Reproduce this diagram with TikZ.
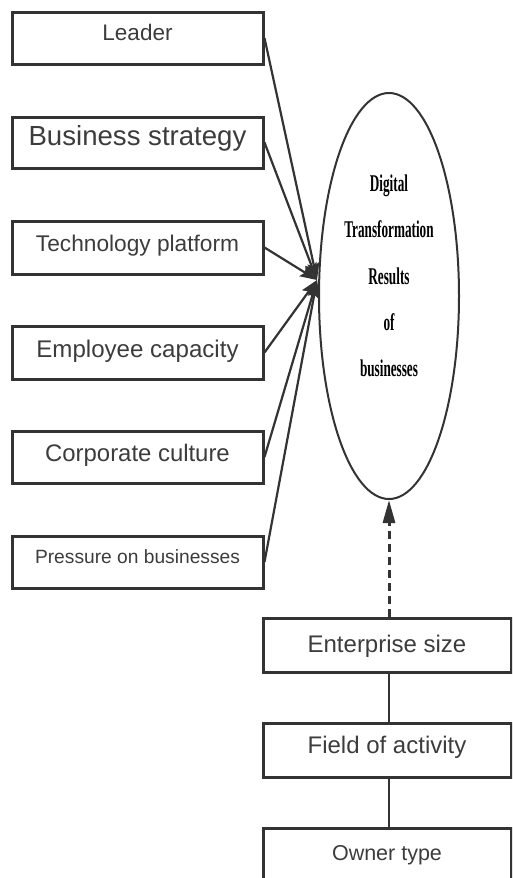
\documentclass[tikz,border=0pt]{standalone}
\usepackage{fontspec}
\setmainfont{Liberation Sans}
\newfontfamily\elfont[FakeStretch=0.55]{Liberation Serif}
\usetikzlibrary{arrows.meta,shapes.geometric}
\definecolor{lineC}{HTML}{333333}
\definecolor{textC}{HTML}{3C3C3C}
\tikzset{
  lbox/.style={draw=lineC, line width=3pt, minimum width=251pt, minimum height=52pt,
    inner sep=0pt, text height=0pt, text depth=0pt, text=textC},
  bbox/.style={draw=lineC, line width=3pt, minimum width=248pt, minimum height=54pt,
    inner sep=0pt, text height=0pt, text depth=0pt, text=textC},
  arr/.style={draw=lineC, line width=2.2pt, -{Stealth[length=17pt,width=12pt,inset=3pt]}},
  link/.style={draw=lineC, line width=2.5pt},
  dasharr/.style={draw=lineC, line width=3pt, dash pattern=on 8pt off 5pt,
    -{Triangle[length=23pt,width=12pt]}},
}
\begin{document}
\begin{tikzpicture}[x=1pt,y=-1pt]
\useasboundingbox (0,0) rectangle (512,878);
\clip (0,0) rectangle (512,878);
% left boxes
\node[lbox, font=\fontsize{22.5}{27}\selectfont] (lead) at (137.5,38) {\raisebox{-2.1pt}{Leader}};
\node[lbox, minimum height=51pt, font=\fontsize{27.6}{32}\selectfont] (bus) at (137.5,142.5) {\raisebox{-2.9pt}{Business strategy}};
\node[lbox, minimum height=53pt, font=\fontsize{22.7}{27}\selectfont] (tech) at (137.5,247.5) {\raisebox{-4.2pt}{Technology platform}};
\node[lbox, minimum height=53pt, font=\fontsize{24.1}{29}\selectfont] (emp) at (137.5,352.5) {\raisebox{-4.7pt}{Employee capacity}};
\node[lbox, font=\fontsize{23.9}{29}\selectfont] (corp) at (137.5,457) {\raisebox{-4.1pt}{Corporate culture}};
\node[lbox, font=\fontsize{19.2}{23}\selectfont] (pres) at (137.5,562) {\raisebox{-1.4pt}{Pressure on businesses}};
% ellipse
\node[ellipse, draw=lineC, line width=2pt, minimum width=140pt, minimum height=406pt, inner sep=0pt] (ell) at (389,296) {};
\node[align=center, inner sep=0pt, font=\elfont\bfseries\fontsize{24}{46.25}\selectfont] (elltext) at (389,276)
  {Digital\\Transformation\\Results\\of\\businesses};
\coordinate (hub) at (317,280);
% bottom boxes
\node[bbox, font=\fontsize{24}{29}\selectfont] (ent) at (387,645) {\raisebox{-7.1pt}{Enterprise size}};
\node[bbox, font=\fontsize{24}{29}\selectfont] (field) at (387,750) {\raisebox{-3.6pt}{Field of activity}};
\node[bbox, font=\fontsize{21.5}{26}\selectfont] (own) at (387,855) {\raisebox{-5.2pt}{Owner type}};
% connectors
\draw[arr] (lead.east) -- (hub);
\draw[arr] (bus.east) -- (hub);
\draw[arr] (tech.east) -- (hub);
\draw[arr] (emp.east) -- (hub);
\draw[arr] (corp.east) -- (hub);
\draw[arr] (pres.east) -- (hub);
\draw[dasharr] (ent.north -| ell.south) -- (ell.south);
\draw[link] (ent.south -| ell.south) -- (field.north -| ell.south);
\draw[link] (field.south -| ell.south) -- (own.north -| ell.south);
\end{tikzpicture}
\end{document}
